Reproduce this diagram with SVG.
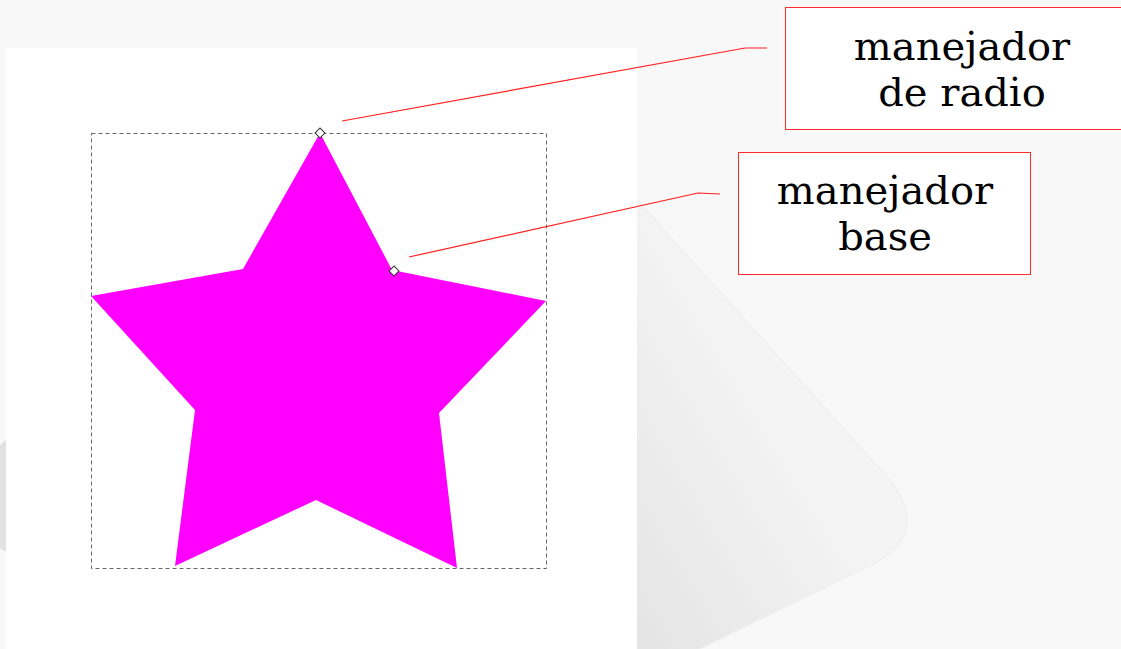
<svg xmlns="http://www.w3.org/2000/svg" width="1121" height="649" viewBox="0 0 1121 649">
<defs>
<linearGradient id="bgShade" x1="0" y1="1" x2="1" y2="0">
<stop offset="0" stop-color="#e4e4e4"/>
<stop offset="0.5" stop-color="#f3f3f3"/>
<stop offset="1" stop-color="#f8f8f8"/>
</linearGradient>
<style>
.lbl{fill:#fff;stroke:#ff2a2a;stroke-width:1}
.txt{font-family:"DejaVu Serif",serif;font-size:40px;fill:#000;text-anchor:middle}
.lead{fill:none;stroke:#ff2020;stroke-width:1.2}
.hdl{fill:#fff;stroke:#333;stroke-width:1}
</style>
</defs>
<rect x="0" y="0" width="1121" height="649" fill="#f8f8f8"/>
<path d="M637 200 L890 480 Q935 540 860 570 L700 649 L637 649 Z" fill="url(#bgShade)"/>
<path d="M637 200 L890 480 Q935 540 860 570 L700 649" fill="none" stroke="#f0f0f0" stroke-width="1.5"/>
<path d="M0 445 L6 440 L6 552 L0 548 Z" fill="#e2e2e2"/>
<rect x="6" y="48" width="631" height="601" fill="#fff"/>
<g id="star">
<polygon points="320,133 392,270 546,301 439,413 457,568 316,500 175,566 195,410 91,296 243,269" fill="#ff00ff"/>
<rect x="91.5" y="133.5" width="455" height="435" fill="none" stroke="#666" stroke-width="1" stroke-dasharray="4,3"/>
<rect x="316.5" y="129.5" width="7" height="7" transform="rotate(45 320 133)" class="hdl"/>
<rect x="390.5" y="267.5" width="7" height="7" transform="rotate(45 394 271)" class="hdl"/>
</g>
<g id="connectors">
<polyline class="lead" points="342,121 745,48 767,48"/>
<polyline class="lead" points="409,257 698,193 720,194"/>
</g>
<g id="label-radio">
<rect class="lbl" x="785.5" y="7.5" width="340" height="122"/>
<text class="txt" x="962" y="60">manejador</text>
<text class="txt" x="962" y="106">de radio</text>
</g>
<g id="label-base">
<rect class="lbl" x="738.5" y="152.5" width="292" height="122"/>
<text class="txt" x="885" y="204">manejador</text>
<text class="txt" x="885" y="250">base</text>
</g>
</svg>
